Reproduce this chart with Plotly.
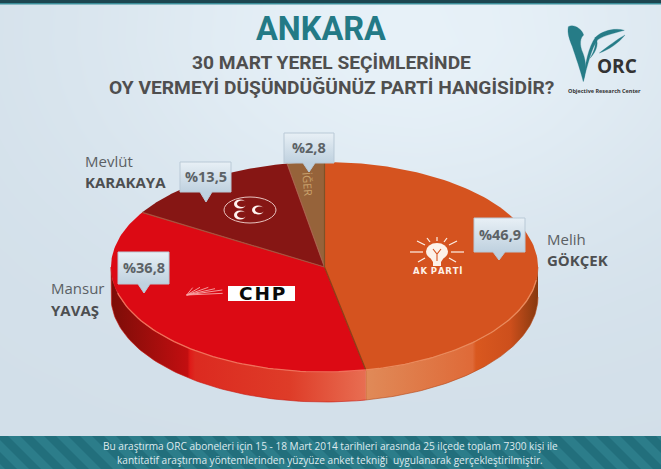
import numpy as np
import plotly.graph_objects as go

parties = ["AK PARTİ", "CHP", "MHP", "DİĞER"]
shares = [46.9, 36.8, 13.5, 2.8]
share_labels = ["%46,9", "%36,8", "%13,5", "%2,8"]
first_names = ["Melih", "Mansur", "Mevlüt"]
last_names = ["GÖKÇEK", "YAVAŞ", "KARAKAYA"]
title = "ANKARA"
question = ["30 MART YEREL SEÇİMLERİNDE", "OY VERMEYİ DÜŞÜNDÜĞÜNÜZ PARTİ HANGİSİDİR?"]
footer = ["Bu araştırma ORC aboneleri için 15 - 18 Mart 2014 tarihleri arasında 25 ilçede toplam 7300 kişi ile",
          "kantitatif araştırma yöntemlerinden yüzyüze anket tekniği  uygulanarak gerçekleştirilmiştir."]

W, H = 661, 469
CX, CY, RX, RY, DEPTH = 324.5, 267, 213.5, 105, 30
TOP_COL = ["#d5531f", "#dc0a14", "#861614", "#96633a"]
EDGE_COL = ["#8a3f16", "#a8503c", "#a8604a", "#7d5228"]
FONT = "Open Sans"
HEAD = "Roboto"
TEXT = "#565a5d"

fig = go.Figure()

# background
gx = np.linspace(0, W, 12)
gy = np.linspace(0, H, 12)
GX, GY = np.meshgrid(gx, gy)
bg = np.exp(-(((GX - 410) / 330) ** 2 + ((GY - 30) / 230) ** 2))
fig.add_trace(go.Heatmap(x=gx, y=gy, z=bg, zsmooth="best", showscale=False, hoverinfo="skip",
                         colorscale=[[0, "#d2dfe9"], [1, "#e7f1f8"]]))


def pt(frac):
    a = 2 * np.pi * np.asarray(frac)
    return CX + RX * np.sin(a), CY - RY * np.cos(a)


cum = np.concatenate([[0], np.cumsum(shares)]) / sum(shares)

# side walls (visible from 3 o'clock to 9 o'clock)
side_specs = [
    (0.25, cum[1], [[0, "#e08a58"], [0.62, "#df6a38"], [0.64, "#d9581f"], [0.84, "#cd4f1c"], [1, "#86390f"]], "#b5481a"),
    (cum[1], 0.75, [[0, "#7c0d08"], [0.3, "#c20e10"], [0.31, "#df1a18"], [0.33, "#dc2a20"], [0.7, "#de3c28"], [1, "#e86e52"]], "#c8180f"),
]
for f0, f1, scale, edge in side_specs:
    t = np.linspace(f0, f1, 80)
    x, y = pt(t)
    px = np.concatenate([x, x[::-1]])
    py = np.concatenate([y, y[::-1] + DEPTH])
    fig.add_trace(go.Scatter(x=px, y=py, mode="lines", fill="toself", hoverinfo="skip",
                             line=dict(width=0.6, color=edge),
                             fillgradient=dict(type="horizontal", colorscale=scale,
                                               start=float(px.min()), stop=float(px.max()))))

# top faces
for i in range(len(shares)):
    t = np.linspace(cum[i], cum[i + 1], 120)
    x, y = pt(t)
    fig.add_trace(go.Scatter(x=np.concatenate([[CX], x, [CX]]), y=np.concatenate([[CY], y, [CY]]),
                             mode="lines", fill="toself", fillcolor=TOP_COL[i], name=parties[i],
                             line=dict(width=0), hoverinfo="skip"))
# separators
for i, col in enumerate(EDGE_COL):
    x, y = pt(cum[i + 1])
    fig.add_trace(go.Scatter(x=[CX, float(x)], y=[CY, float(y)], mode="lines", hoverinfo="skip",
                             line=dict(color=col, width=1.2)))
# rim highlight
for f0, f1, col in [(0.27, cum[1], "#ea8a5c"), (cum[1], 0.71, "#f0705a")]:
    x, y = pt(np.linspace(f0, f1, 60))
    fig.add_trace(go.Scatter(x=x, y=y, mode="lines", hoverinfo="skip", line=dict(color=col, width=1.3)))

# callouts
boxes = {0: (474, 218, 525, 252, 499, 260), 1: (118, 252, 169, 284, 144, 293),
         2: (180, 162, 231, 192, 206, 202), 3: (284, 133, 334, 163, 309, 172)}
for i, (x0, y0, x1, y1, tx, ty) in boxes.items():
    fig.add_trace(go.Scatter(
        x=[x0, x1, x1, tx + 6, tx, tx - 6, x0, x0], y=[y0, y0, y1, y1, ty, y1, y1, y0],
        mode="lines", fill="toself", hoverinfo="skip", line=dict(color="#b9c9d6", width=1),
        fillgradient=dict(type="vertical", start=y0, stop=y1,
                          colorscale=[[0, "#e8f0f6"], [0.5, "#d3e0ea"], [1, "#bfd1df"]])))

shapes = []
# header + footer
shapes.append(dict(type="rect", x0=0, x1=W, y0=0, y1=3, fillcolor="#1d4650", line_width=0))
shapes.append(dict(type="rect", x0=0, x1=W, y0=3, y1=4.5, fillcolor="#3a8d99", line_width=0))
shapes.append(dict(type="rect", x0=0, x1=W, y0=436, y1=H, fillcolor="#226f7c", line_width=0))
for sx in range(-40, W + 10, 24):
    shapes.append(dict(type="path", path=f"M{sx},436 L{sx+12},436 L{sx+45},469 L{sx+33},469 Z",
                       fillcolor="#2c7d8a", line_width=0))


def zpath(d, ox, oy, k=3):
    out = []
    for tok in d.split():
        if tok[0].isalpha():
            out.append(tok)
        else:
            a, b = tok.split(",")
            out.append(f"{float(a)/k+ox:.2f},{float(b)/k+oy:.2f}")
    return " ".join(out)


# ORC logo
teal = "#267c87"
for d in ["M 40,35 C 55,26 80,40 86,60 C 76,68 72,88 84,115 C 94,140 94,170 85,200 C 76,165 62,125 52,95 C 44,75 36,55 40,35 Z",
          "M 85,197 C 90,150 100,95 122,66 C 145,45 182,38 208,46 C 180,54 150,60 128,74 C 110,98 98,150 85,197 Z",
          "M 210,60 C 190,85 160,105 133,114 C 158,95 188,72 210,60 Z",
          "M 120,66 C 132,80 128,105 105,130 C 120,105 124,85 120,66 Z"]:
    shapes.append(dict(type="path", path=zpath(d, 555, 15), fillcolor=teal, line=dict(color=teal, width=0.3)))

# AK PARTİ emblem
white = "#fdf1e8"
ax, ay = 437, 252
shapes.append(dict(type="circle", x0=ax - 11, x1=ax + 11, y0=ay - 9, y1=ay + 8, fillcolor=white, line_width=0))
shapes.append(dict(type="path", path=f"M{ax-8},{ay+4} L{ax+8},{ay+4} L{ax+4},{ay+10} L{ax+4},{ay+14} L{ax-4},{ay+14} L{ax-4},{ay+10} Z",
                   fillcolor=white, line_width=0))
shapes.append(dict(type="path", path=f"M{ax-4},{ay-3} L{ax},{ay+2} L{ax+4},{ay-3} M{ax},{ay+2} L{ax},{ay+9}",
                   line=dict(color=TOP_COL[0], width=1.1)))
for dx0, dy0, dx1, dy1 in [(-14, 0, -27, 0), (14, 0, 27, 0), (-12, -7, -20, -11), (12, -7, 20, -11),
                           (0, -11, 0, -15), (-7, -10, -10, -14), (7, -10, 10, -14), (-12, 6, -19, 10), (12, 6, 19, 10)]:
    shapes.append(dict(type="line", x0=ax + dx0, y0=ay + dy0, x1=ax + dx1, y1=ay + dy1, line=dict(color=white, width=1.2)))

# CHP emblem
shapes.append(dict(type="rect", x0=228, x1=295, y0=286, y1=301, fillcolor="#ffffff", line_width=0))
for ex, ey in [(38, 53), (60, 52), (85, 52), (105, 56), (127, 60), (128, 70)]:
    shapes.append(dict(type="line", x0=20 / 3 + 180, y0=75 / 3 + 270, x1=ex / 3 + 180, y1=ey / 3 + 270,
                       line=dict(color="#f8a8a8", width=0.9)))

# MHP emblem
shapes.append(dict(type="circle", x0=224, x1=276, y0=197, y1=223, fillcolor="rgba(0,0,0,0)",
                   line=dict(color="#e8c4c0", width=1)))
for mx, my in [(240, 204), (240, 215), (258, 210)]:
    shapes.append(dict(type="circle", x0=mx - 6, x1=mx + 6, y0=my - 4.5, y1=my + 4.5, fillcolor="#fff4f0", line_width=0))
    shapes.append(dict(type="circle", x0=mx - 3, x1=mx + 7, y0=my - 3.5, y1=my + 3, fillcolor=TOP_COL[2], line_width=0))

ann = []


def txt(x, y, s, size, color=TEXT, bold=False, anchor="left", font=FONT, angle=0):
    ann.append(dict(x=x, y=y, text=f"<b>{s}</b>" if bold else s, showarrow=False, xanchor=anchor, yanchor="middle",
                    textangle=angle, font=dict(size=size, color=color, family=font), align="center"))


txt(320.5, 29, title, 32.5, "#237a86", True, "center", HEAD)
txt(331.5, 62, question[0], 19.2, "#4f4f4f", True, "center", HEAD)
txt(331.5, 87, question[1], 19.2, "#4f4f4f", True, "center", HEAD)
txt(604, 91, "Objective Research Center", 5.5, "#333333", True, "center")
txt(617, 66, "ORC", 19, "#333333", True, "center")
for (x, y1, y2), f, l in zip([(545, 239, 260), (49, 288, 310), (83, 161, 182)], first_names, last_names):
    txt(x, y1, f, 15, "#5b6064")
    txt(x, y2, l, 15, "#4d4f51", True)
txt(308, 180, '<span style="fill:rgba(0,0,0,0)">D</span>İĞER', 11, "#c9a16c", angle=85, anchor="center")
for i, s in enumerate(share_labels):
    x0, y0, x1, y1, _, _ = boxes[i]
    txt((x0 + x1) / 2, (y0 + y1) / 2 - 1, s, 14.5, "#5c6266", True, "center")
txt(438, 271, "A\u200aK \u200aP\u200aA\u200aR\u200aT\u200aİ", 8.5, white, True, "center", "DejaVu Sans")
txt(261.5, 293.5, "C\u200aH\u200aP", 18.5, "#0a0a0a", True, "center", "DejaVu Sans")
txt(330.5, 446, footer[0], 10.1, "#dfeaee", False, "center")
txt(330, 459.5, footer[1], 10.1, "#dfeaee", False, "center")

fig.update_layout(
    width=W, height=H, margin=dict(l=0, r=0, t=0, b=0), showlegend=False,
    paper_bgcolor="#d5e2ec", plot_bgcolor="#d5e2ec", shapes=shapes, annotations=ann,
    xaxis=dict(range=[0, W], visible=False, fixedrange=True),
    yaxis=dict(range=[H, 0], visible=False, fixedrange=True),
)
fig.write_html("out.html", config=dict(displayModeBar=False),
               post_script="document.body.style.margin='0';document.body.style.overflow='hidden';")
